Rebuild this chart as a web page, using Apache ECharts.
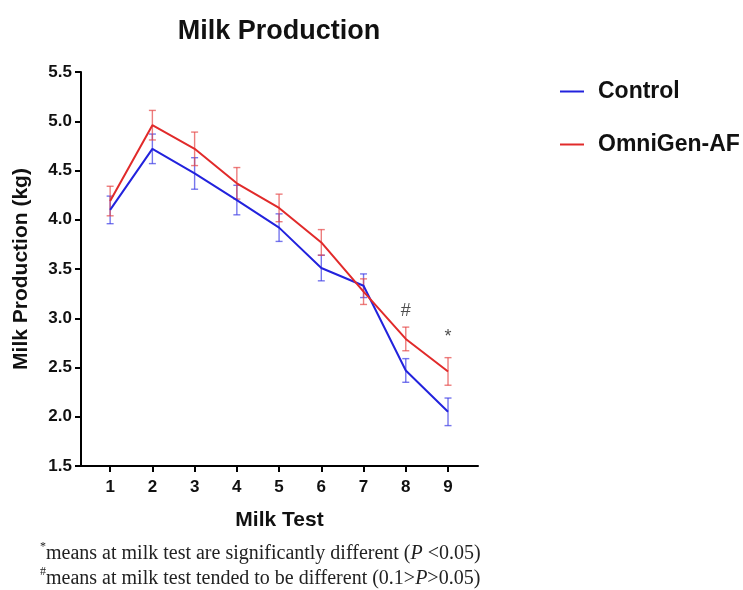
<!DOCTYPE html>
<html>
<head>
<meta charset="utf-8">
<script src="https://cdn.jsdelivr.net/npm/echarts@6/dist/echarts.min.js"></script>
<style>
  html, body { margin: 0; padding: 0; background: #fff; }
  #main { width: 743px; height: 590px; }
</style>
</head>
<body>
<div id="main"></div>
<script>
// milk test number
var tests = [1, 2, 3, 4, 5, 6, 7, 8, 9];
// means (kg)
var control = [4.10, 4.72, 4.47, 4.20, 3.92, 3.51, 3.33, 2.47, 2.05];
var omnigen = [4.19, 4.96, 4.72, 4.37, 4.12, 3.77, 3.27, 2.79, 2.46];
// error bar half widths
var controlErr = [0.14, 0.15, 0.16, 0.15, 0.14, 0.13, 0.12, 0.12, 0.14];
var omnigenErr = [0.15, 0.15, 0.17, 0.16, 0.14, 0.13, 0.13, 0.12, 0.14];
// significance marks
var marks = [{ x: 8, y: 3.07, t: '#' }, { x: 9, y: 2.81, t: '*' }];

var blue = '#2222dd';
var red = '#e12a2a';

function pairs(xs, ys) {
    var out = [];
    for (var i = 0; i < xs.length; i++) {
        out.push([xs[i], ys[i]]);
    }
    return out;
}

function errData(xs, ys, es) {
    var out = [];
    for (var i = 0; i < xs.length; i++) {
        out.push([xs[i], ys[i] - es[i], ys[i] + es[i]]);
    }
    return out;
}

function errBars(color) {
    return function (params, api) {
        var lo = api.coord([api.value(0), api.value(1)]);
        var hi = api.coord([api.value(0), api.value(2)]);
        var w = 3.5;
        var st = { stroke: color, lineWidth: 1.4 };
        return {
            type: 'group',
            children: [
                { type: 'line', shape: { x1: lo[0], y1: lo[1], x2: hi[0], y2: hi[1] }, style: st },
                { type: 'line', shape: { x1: lo[0] - w, y1: lo[1], x2: lo[0] + w, y2: lo[1] }, style: st },
                { type: 'line', shape: { x1: hi[0] - w, y1: hi[1], x2: hi[0] + w, y2: hi[1] }, style: st }
            ]
        };
    };
}

var chart = echarts.init(document.getElementById('main'));

var option = {
    backgroundColor: '#fff',
    animation: false,
    title: {
        text: 'Milk Production',
        left: 274,
        top: 13,
        textAlign: 'center',
        textStyle: { fontFamily: 'Liberation Sans', fontWeight: 'bold', fontSize: 27, color: '#111' }
    },
    grid: { left: 81, right: 265, top: 72, bottom: 124, containLabel: false },
    xAxis: {
        type: 'value',
        min: 0.31,
        max: 9.71,
        name: 'Milk Test',
        nameLocation: 'middle',
        nameGap: 44,
        nameTextStyle: { fontFamily: 'Liberation Sans', fontWeight: 'bold', fontSize: 21, color: '#111' },
        axisLine: { show: true, lineStyle: { color: '#000', width: 2 } },
        axisTick: { show: true, length: 6, lineStyle: { color: '#000', width: 2 }, customValues: tests },
        axisLabel: {
            customValues: tests,
            margin: 13,
            fontFamily: 'Liberation Sans', fontWeight: 'bold', fontSize: 17, color: '#111'
        },
        splitLine: { show: false }
    },
    yAxis: {
        type: 'value',
        min: 1.5,
        max: 5.5,
        interval: 0.5,
        name: 'Milk Production (kg)',
        nameLocation: 'middle',
        nameGap: 49,
        nameTextStyle: { fontFamily: 'Liberation Sans', fontWeight: 'bold', fontSize: 21, color: '#111' },
        axisLine: { show: true, lineStyle: { color: '#000', width: 2 } },
        axisTick: { show: true, length: 6, lineStyle: { color: '#000', width: 2 } },
        axisLabel: {
            margin: 9,
            formatter: function (v) { return v.toFixed(1); },
            fontFamily: 'Liberation Sans', fontWeight: 'bold', fontSize: 17, color: '#111'
        },
        splitLine: { show: false }
    },
    legend: {
        orient: 'vertical',
        left: 560,
        top: 80,
        padding: 0,
        itemGap: 30,
        itemWidth: 24,
        itemHeight: 2,
        icon: 'rect',
        data: ['Control', 'OmniGen-AF'],
        textStyle: { fontFamily: 'Liberation Sans', fontWeight: 'bold', fontSize: 23, color: '#111', padding: [0, 0, 0, 9] }
    },
    series: [
        {
            name: 'ControlErr', type: 'custom',
            renderItem: errBars('rgba(60,60,230,0.7)'),
            data: errData(tests, control, controlErr),
            encode: { x: 0, y: [1, 2] }, z: 2, silent: true
        },
        {
            name: 'OmniErr', type: 'custom',
            renderItem: errBars('rgba(230,70,70,0.7)'),
            data: errData(tests, omnigen, omnigenErr),
            encode: { x: 0, y: [1, 2] }, z: 2, silent: true
        },
        {
            name: 'Control', type: 'line',
            data: pairs(tests, control),
            symbol: 'none',
            color: blue,
            lineStyle: { color: blue, width: 2 },
            z: 3
        },
        {
            name: 'OmniGen-AF', type: 'line',
            data: pairs(tests, omnigen),
            symbol: 'none',
            color: red,
            lineStyle: { color: red, width: 2 },
            z: 4
        },
        {
            name: 'marks', type: 'scatter',
            symbolSize: 0,
            data: marks.map(function (m) { return { value: [m.x, m.y], t: m.t }; }),
            label: {
                show: true,
                position: 'inside',
                formatter: function (p) { return p.data.t; },
                fontFamily: 'Liberation Sans', fontSize: 18, color: '#222'
            },
            z: 5
        }
    ],
    graphic: [
        {
            type: 'text',
            left: 40,
            top: 541,
            style: {
                text: '{s|*}means at milk test are significantly different ({i|P} <0.05)\n{s|#}means at milk test tended to be different (0.1>{i|P}>0.05)',
                fontFamily: 'Liberation Serif',
                fontSize: 20,
                lineHeight: 25,
                fill: '#222',
                rich: {
                    s: { fontFamily: 'Liberation Serif', fontSize: 12, verticalAlign: 'top', lineHeight: 25, fill: '#222' },
                    i: { fontFamily: 'Liberation Serif', fontSize: 20, fontStyle: 'italic', fill: '#222' }
                }
            }
        }
    ]
};

chart.setOption(option);
</script>
</body>
</html>
